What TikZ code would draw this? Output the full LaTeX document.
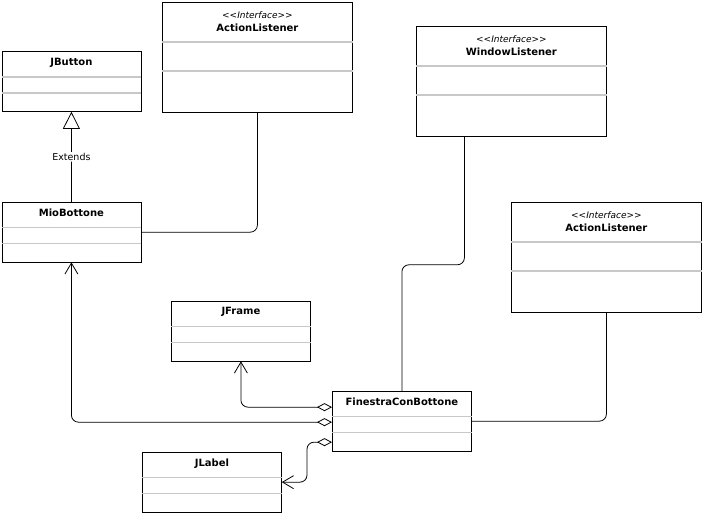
\documentclass[tikz,border=0pt]{standalone}
\usepackage{fontspec}
\setmainfont{DejaVu Sans}
\usetikzlibrary{arrows.meta,positioning}
\definecolor{SepGray}{HTML}{C8C8C8}

\begin{document}
\begin{tikzpicture}[x=1pt, y=-1pt,
    classbox/.style={draw, line width=0.8pt, anchor=north west, inner sep=0pt, minimum width=139pt, minimum height=59.5pt},
    ifacebox/.style={classbox, minimum width=190pt, minimum height=110pt},
    classname/.style={anchor=north, yshift=-3pt, font=\bfseries\fontsize{10}{12}\selectfont},
    ifacename/.style={anchor=north, yshift=-6pt, align=center, font=\fontsize{10}{13.3}\selectfont},
    sepline/.style={draw=SepGray, line width=1.4pt},
    link/.style={line width=0.8pt, rounded corners=7pt},
    extarrow/.style={link, -{Triangle[open, length=17pt, width=17pt]}},
    aggarrow/.style={link, {Diamond[open, length=15pt, width=8pt]}-{Straight Barb[length=11pt, width=13pt]}}
]
\useasboundingbox (0,0) rectangle (703,516);

% classes
\node[classbox, label={[classname]north:JButton}] (jbutton) at (1.5,51.5) {};
\node[ifacebox, label={[ifacename]north:{{\itshape\fontsize{9}{13.3}\selectfont {<}{<}Interface{>}{>}}\\\textbf{ActionListener}}}] (actionA) at (162,2) {};
\node[classbox, label={[classname]north:MioBottone}] (mio) at (1.5,202) {};
\node[ifacebox, label={[ifacename]north:{{\itshape\fontsize{9}{13.3}\selectfont {<}{<}Interface{>}{>}}\\\textbf{WindowListener}}}] (window) at (416,26) {};
\node[ifacebox, label={[ifacename]north:{{\itshape\fontsize{9}{13.3}\selectfont {<}{<}Interface{>}{>}}\\\textbf{ActionListener}}}] (actionB) at (511,202) {};
\node[classbox, label={[classname]north:JFrame}] (jframe) at (171,301) {};
\node[classbox, label={[classname]north:FinestraConBottone}] (finestra) at (332,391) {};
\node[classbox, label={[classname]north:JLabel}] (jlabel) at (142,452) {};

% compartments
\foreach \c in {jbutton,mio,jframe,finestra,jlabel}{
  \draw[sepline] ([yshift=-25.5pt]\c.north west) -- ([yshift=-25.5pt]\c.north east);
  \draw[sepline] ([yshift=-41.5pt]\c.north west) -- ([yshift=-41.5pt]\c.north east);
}
\foreach \c in {actionA,window,actionB}{
  \draw[sepline] ([yshift=-40pt]\c.north west) -- ([yshift=-40pt]\c.north east);
  \draw[sepline] ([yshift=-69pt]\c.north west) -- ([yshift=-69pt]\c.north east);
}

% relations
\draw[extarrow] (mio.north) -- node[fill=white, inner sep=1pt, font=\fontsize{9.5}{11}\selectfont] (extlabel) {Extends} (jbutton.south);
\draw[link] (actionA.south) |- (mio.east);
\draw[link] ([xshift=-47pt]window.south) -- ++(0,128) -| (finestra.north);
\draw[link] (actionB.south) |- (finestra.east);
\draw[aggarrow] ([yshift=14pt]finestra.west) -| (jframe.south);
\draw[aggarrow] ([yshift=-1pt]finestra.west) -| (mio.south);
\draw[aggarrow] ([yshift=-21pt]finestra.west) -- ++(-25,0) |- (jlabel.east);
\end{tikzpicture}
\end{document}
